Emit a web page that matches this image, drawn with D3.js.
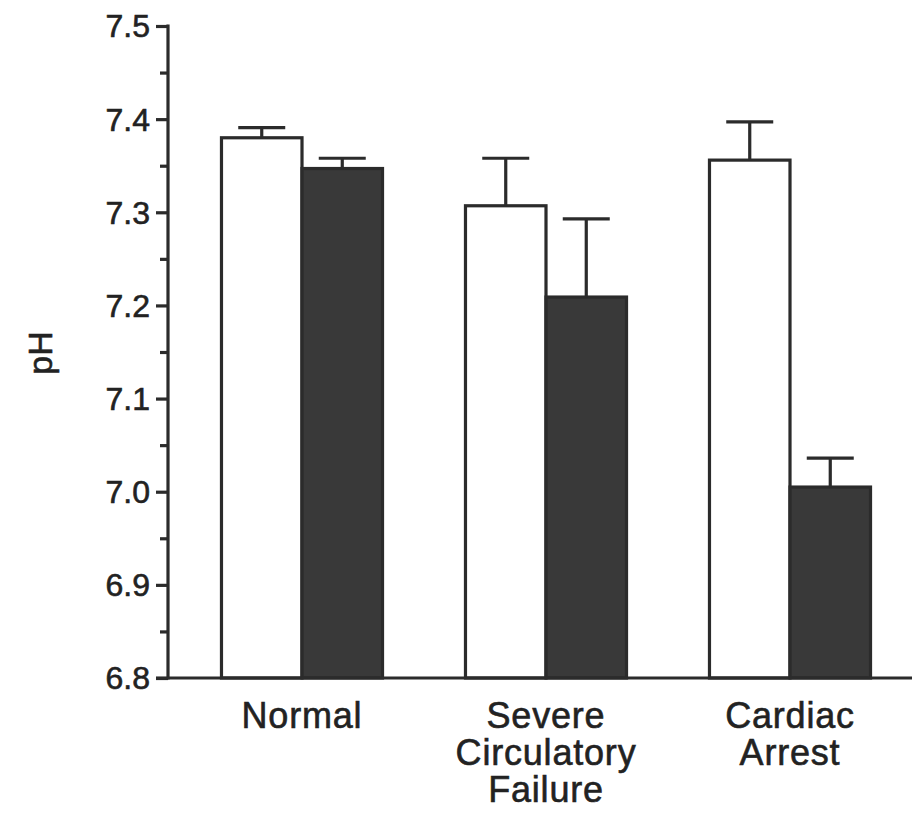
<!DOCTYPE html>
<html>
<head>
<meta charset="utf-8">
<script src="https://cdn.jsdelivr.net/npm/d3@7"></script>
<style>
  html, body { margin: 0; padding: 0; background: #fff; }
  svg { display: block; }
  text { font-family: "Liberation Sans", Arial, Helvetica, sans-serif; fill: #222; stroke: #222; stroke-width: 0.6px; }
</style>
</head>
<body>
<svg id="chart" width="917" height="815"></svg>
<script>
// ---- data ----
const categories = ["Normal", "Severe Circulatory Failure", "Cardiac Arrest"];
const categoryLines = [["Normal"], ["Severe", "Circulatory", "Failure"], ["Cardiac", "Arrest"]];
const seriesNames = ["pre", "post"];
const seriesValues = {
  pre:  [7.380, 7.307, 7.356],
  post: [7.347, 7.209, 7.005]
};
const seriesErrors = {
  pre:  [0.011, 0.051, 0.041],
  post: [0.011, 0.084, 0.031]
};
const majorTicks = [6.8, 6.9, 7.0, 7.1, 7.2, 7.3, 7.4, 7.5];
const minorTicks = [6.85, 6.95, 7.05, 7.15, 7.25, 7.35, 7.45];
const yLabel = "pH";

// ---- layout ----
const svg = d3.select("#chart");
const axisX = 168;
const y = d3.scaleLinear().domain([6.8, 7.5]).range([678, 26]);
const x = d3.scaleBand().domain(categories).range([180, 912]).paddingInner(0.34).paddingOuter(0.17);
const xs = d3.scaleBand().domain(seriesNames).range([0, x.bandwidth()]);
const fills = { pre: "#ffffff", post: "#393939" };
const ink = "#2b2b2b";
const sw = 3.2;

// y axis
const gMajor = svg.append("g").attr("transform", `translate(${axisX},0)`)
  .call(d3.axisLeft(y).tickValues(majorTicks).tickFormat(d3.format(".1f")).tickSize(12).tickPadding(6));
gMajor.select(".domain").remove();
gMajor.selectAll(".tick line").attr("stroke", ink).attr("stroke-width", sw);
gMajor.selectAll(".tick text").attr("font-size", 32).style("fill", "#222").attr("dy", "0.34em");

const gMinor = svg.append("g").attr("transform", `translate(${axisX},0)`)
  .call(d3.axisLeft(y).tickValues(minorTicks).tickFormat("").tickSize(8));
gMinor.select(".domain").remove();
gMinor.selectAll(".tick line").attr("stroke", ink).attr("stroke-width", sw);

svg.append("line")
  .attr("x1", axisX).attr("x2", axisX)
  .attr("y1", y(7.5) - 1.5).attr("y2", y(6.8) + 1.5)
  .attr("stroke", ink).attr("stroke-width", sw);

// bars
const groups = svg.append("g").selectAll("g").data(categories).join("g")
  .attr("transform", d => `translate(${x(d)},0)`);

seriesNames.forEach(s => {
  groups.append("rect")
    .attr("x", (d) => xs(s))
    .attr("width", xs.bandwidth())
    .attr("y", (d, i) => y(seriesValues[s][i]))
    .attr("height", (d, i) => y(6.8) - y(seriesValues[s][i]))
    .attr("fill", fills[s])
    .attr("stroke", ink).attr("stroke-width", sw);

  // error bars (upward only)
  groups.append("line")
    .attr("x1", xs(s) + xs.bandwidth() / 2).attr("x2", xs(s) + xs.bandwidth() / 2)
    .attr("y1", (d, i) => y(seriesValues[s][i]))
    .attr("y2", (d, i) => y(seriesValues[s][i] + seriesErrors[s][i]))
    .attr("stroke", ink).attr("stroke-width", sw);
  groups.append("line")
    .attr("x1", xs(s) + xs.bandwidth() / 2 - 23.5).attr("x2", xs(s) + xs.bandwidth() / 2 + 23.5)
    .attr("y1", (d, i) => y(seriesValues[s][i] + seriesErrors[s][i]))
    .attr("y2", (d, i) => y(seriesValues[s][i] + seriesErrors[s][i]))
    .attr("stroke", ink).attr("stroke-width", sw);
});

// baseline
svg.append("line")
  .attr("x1", axisX - 12).attr("x2", 912)
  .attr("y1", y(6.8)).attr("y2", y(6.8))
  .attr("stroke", ink).attr("stroke-width", sw);

// x labels
groups.append("text")
  .attr("text-anchor", "middle")
  .attr("x", x.bandwidth() / 2)
  .attr("font-size", 36)
  .style("letter-spacing", "0.8px")
  .selectAll("tspan").data((d, i) => categoryLines[i]).join("tspan")
  .attr("x", x.bandwidth() / 2)
  .attr("y", (d, j) => 728 + j * 37)
  .text(d => d);

// y label
svg.append("text")
  .attr("transform", `translate(52,353) rotate(-90)`)
  .attr("text-anchor", "middle")
  .attr("font-size", 34)
  .text(yLabel);
</script>
</body>
</html>
